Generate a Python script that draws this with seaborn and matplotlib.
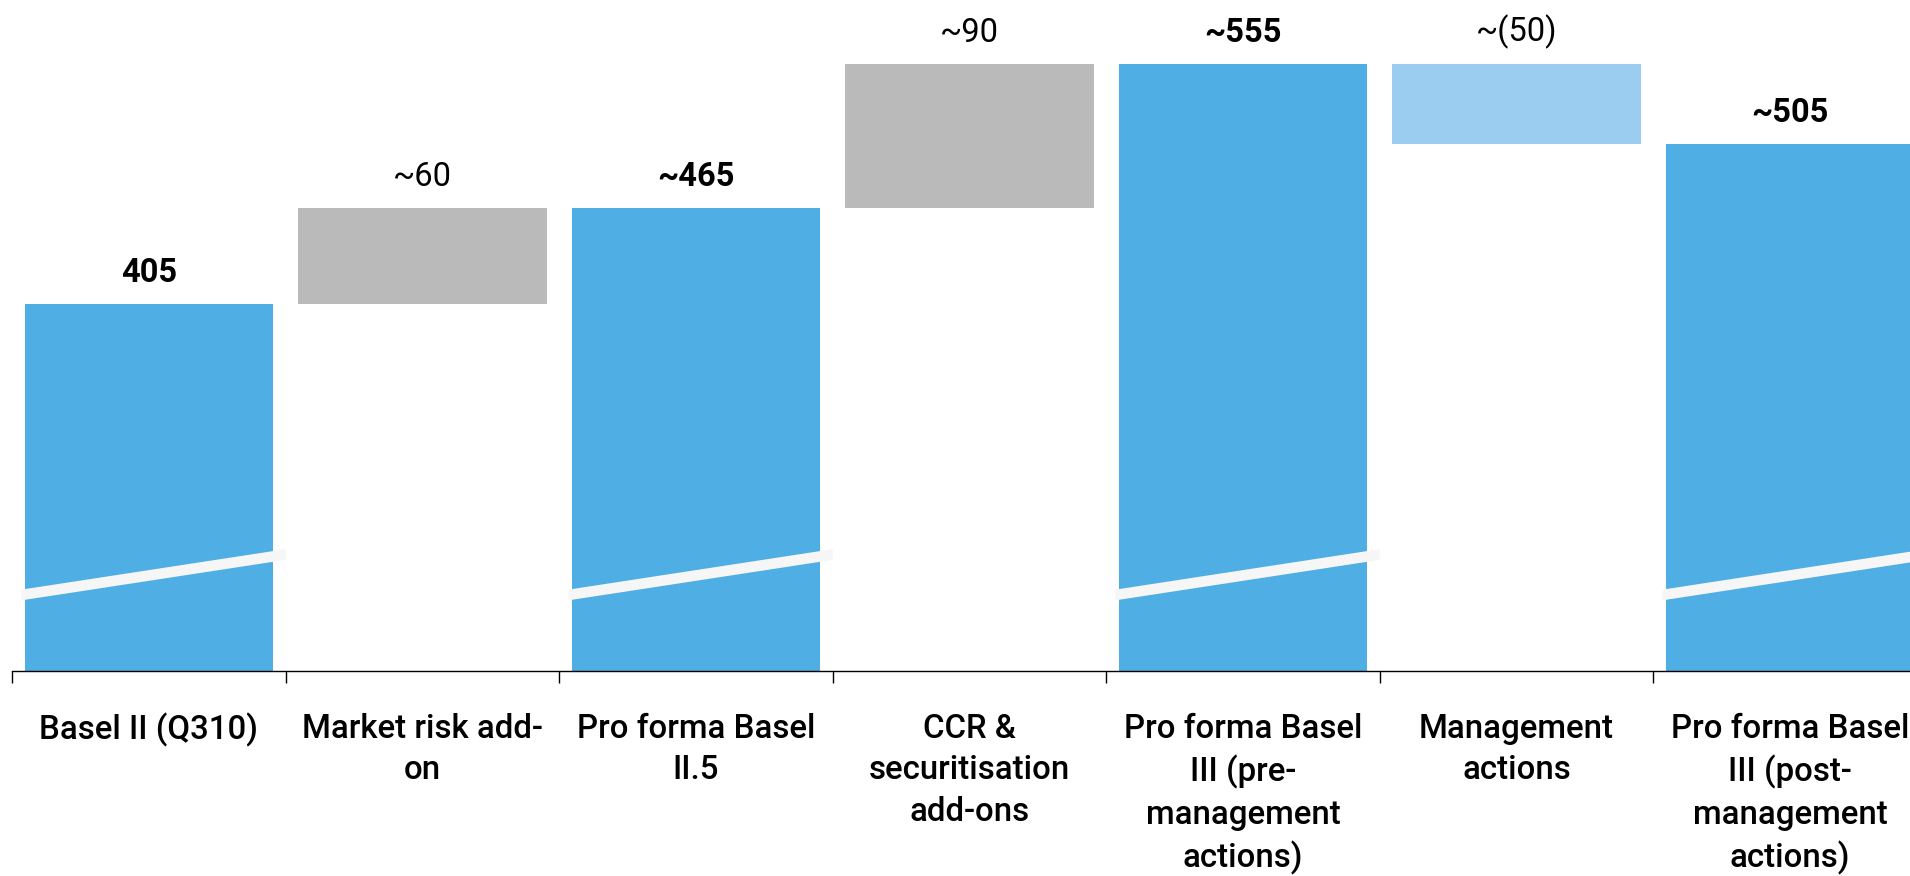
import matplotlib
matplotlib.use("Agg")
import matplotlib.pyplot as plt
import matplotlib.transforms as mtransforms
import numpy as np
import pandas as pd
import seaborn as sns

# ---- data ----
categories = [
    "Basel II (Q310)",
    "Market risk add-on",
    "Pro forma Basel II.5",
    "CCR & securitisation add-ons",
    "Pro forma Basel III (pre-management actions)",
    "Management actions",
    "Pro forma Basel III (post-management actions)",
]
tick_labels = [
    "Basel II (Q310)",
    "Market risk add-\non",
    "Pro forma Basel\nII.5",
    "CCR &\nsecuritisation\nadd-ons",
    "Pro forma Basel\nIII (pre-\nmanagement\nactions)",
    "Management\nactions",
    "Pro forma Basel\nIII (post-\nmanagement\nactions)",
]
values = [405, 60, 465, 90, 555, -50, 505]
kinds = ["total", "increase", "total", "increase", "total", "decrease", "total"]
value_labels = ["405", "~60", "~465", "~90", "~555", "~(50)", "~505"]

# ---- style ----
sns.set_theme(style="white")
plt.rcParams["font.family"] = ["Roboto", "DejaVu Sans"]

colors = {"total": "#4FAEE3", "increase": "#BABABA", "decrease": "#9BCDF0"}

# waterfall bases / heights
bases, heights, running = [], [], 0
for v, k in zip(values, kinds):
    if k == "total":
        bases.append(0)
        heights.append(v)
        running = v
    elif v >= 0:
        bases.append(running)
        heights.append(v)
        running += v
    else:
        bases.append(running + v)
        heights.append(-v)
        running += v

df = pd.DataFrame({"category": categories, "height": heights,
                   "base": bases, "kind": kinds})

W, H = 1910, 876
fig = plt.figure(figsize=(W / 100, H / 100), dpi=100)
ax_left = 12.2 / W
ax_bottom = (H - 671) / H
ax = fig.add_axes([ax_left, ax_bottom, 1 - ax_left, 671 / H])

for kind, sub in df.groupby("kind", sort=False):
    sub = sub.sort_values("category", key=lambda s: s.map(categories.index))
    sns.barplot(data=sub, x="category", y="height", order=categories,
                color=colors[kind], saturation=1, width=0.91,
                bottom=sub["base"].values, errorbar=None, ax=ax,
                linewidth=0, edgecolor="none")

ax.set_xlim(-0.5, -0.5 + (W - 12.2) / 273.5)
ax.set_ylim(175.6, 595)

# axis-break marks on total bars
trans = mtransforms.blended_transform_factory(ax.transData, ax.transAxes)
t = 0.016
for i, k in enumerate(kinds):
    if k != "total":
        continue
    x0, x1 = i - 0.466, i + 0.5
    y0, y1 = 0.1133, 0.1736
    ax.fill([x0, x1, x1, x0], [y0 - t / 2, y1 - t / 2, y1 + t / 2, y0 + t / 2],
            color="#F6F6F6", transform=trans, lw=0, zorder=3, clip_on=True)

# value labels
for i, (b, h, lab, k) in enumerate(zip(bases, heights, value_labels, kinds)):
    ax.annotate(lab, (i, b + h), xytext=(0, 16), textcoords="offset points",
                ha="center", va="baseline", fontsize=23.5,
                fontweight="bold" if k == "total" else "normal",
                color="black", annotation_clip=False)

# axes styling
for s in ["left", "top", "right"]:
    ax.spines[s].set_visible(False)
ax.spines["bottom"].set_color("black")
ax.spines["bottom"].set_linewidth(1.0)
ax.set_yticks([])
ax.set_xlabel("")
ax.set_ylabel("")
ax.set_xticks(range(len(categories)))
ax.set_xticklabels(tick_labels, fontsize=23.8, fontweight="medium",
                   color="black", linespacing=1.38)
ax.set_xticks(np.arange(-0.5, len(categories) - 1, 1.0), minor=True)
ax.tick_params(axis="x", which="major", length=0, pad=30)
ax.tick_params(axis="x", which="minor", length=8.5, width=1.0,
               color="black", direction="out", bottom=True)

fig.savefig("out.png", dpi=100, facecolor="white")
